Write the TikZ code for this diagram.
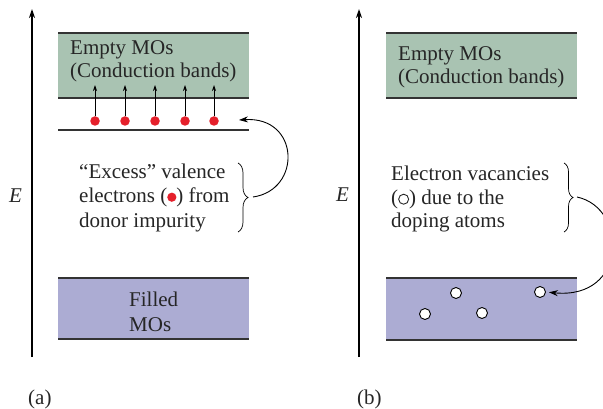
\documentclass[tikz,border=0pt]{standalone}
\usepackage{fontspec}
\setmainfont{Liberation Serif}
\usetikzlibrary{arrows.meta,decorations.pathreplacing}
\definecolor{cbgreen}{HTML}{A9C3B2}
\definecolor{vblue}{HTML}{ACACD3}
\definecolor{edge}{HTML}{333333}
\definecolor{dotred}{HTML}{E5202B}
\tikzset{
  axis/.style={line width=1.8pt,-{Stealth[length=9pt,width=6pt]}},
  bandedge/.style={edge,line width=1.4pt},
  txt/.style={inner sep=0pt,font=\fontsize{21}{24}\selectfont,text=black!85},
  electron/.style={circle,fill=dotred,inner sep=0pt,minimum size=9.5pt},
  hole/.style={circle,draw=black,fill=white,line width=0.9pt,inner sep=0pt,minimum size=11pt},
  excite/.style={line width=0.8pt,-{Stealth[length=6pt,width=4pt]}},
  curvearrow/.style={line width=0.9pt,-{Stealth[length=9pt,width=6pt]}},
  bracedeco/.style={line width=0.7pt,decorate,decoration={brace,amplitude=10pt}},
}
\newcommand{\myrdot}{\tikz[baseline=-0.6ex]\fill[dotred] (0,0) circle (4.6pt);}
\newcommand{\myocirc}{\tikz[baseline=-0.6ex]\draw[line width=0.9pt] (0,0) circle (5pt);}
\begin{document}
\begin{tikzpicture}[x=1pt,y=-1pt]
\useasboundingbox (0,0) rectangle (603,409);
\fill[white] (0,0) rectangle (603,409);

% ===== Panel (a) =====
\coordinate (aAxB) at (32,357);
\coordinate (aAxT) at (32,9);
\draw[axis] (aAxB) -- (aAxT);
\node[txt,anchor=base west,font=\fontsize{21}{24}\selectfont\itshape] (aE) at (9,203) {E};

\fill[cbgreen] (58,33) rectangle (249,98);
\draw[bandedge] (58,33) -- (249,33);
\draw[bandedge] (58,98) -- (249,98);
\node[txt,anchor=base west] (aEmpty1) at (70,55) {Empty MOs};
\node[txt,anchor=base west] (aEmpty2) at (70,78) {(Conduction bands)};

\draw[bandedge,line width=1.2pt] (58,130) -- (249,130);
\foreach \i/\x in {1/95,2/125,3/155,4/185,5/214}{
  \node[electron] (e\i) at (\x,121) {};
  \coordinate (t\i) at (\x,85);
  \draw[excite] (e\i.north) -- (t\i);
}

\node[txt,anchor=base west] (aD1) at (79,179) {“Excess” valence};
\node[txt,anchor=base west] (aD2) at (79,203) {electrons (\myrdot) from};
\node[txt,anchor=base west] (aD3) at (79,227) {donor impurity};

\coordinate (aBrT) at (238,163);
\coordinate (aBrB) at (238,232);
\draw[bracedeco] (aBrT) -- (aBrB);
\coordinate (aTip) at (253,197);
\coordinate (aEnd) at (239,120);
\draw[curvearrow] (aTip) .. controls (302,190) and (300,116) .. (aEnd);

\fill[vblue] (58,278) rectangle (249,339);
\draw[bandedge] (58,278) -- (249,278);
\draw[bandedge] (58,339) -- (249,339);
\node[txt,anchor=base west] (aF1) at (129,306) {Filled};
\node[txt,anchor=base west] (aF2) at (129,331) {MOs};

\node[txt,anchor=base west] (aLab) at (28,404) {(a)};

% ===== Panel (b) =====
\coordinate (bAxB) at (359,357);
\coordinate (bAxT) at (359,9);
\draw[axis] (bAxB) -- (bAxT);
\node[txt,anchor=base west,font=\fontsize{21}{24}\selectfont\itshape] (bE) at (336,202) {E};

\fill[cbgreen] (386,33) rectangle (577,98);
\draw[bandedge] (386,33) -- (577,33);
\draw[bandedge] (386,98) -- (577,98);
\node[txt,anchor=base west] (bEmpty1) at (398,61) {Empty MOs};
\node[txt,anchor=base west] (bEmpty2) at (398,84) {(Conduction bands)};

\node[txt,anchor=base west] (bD1) at (391,181) {Electron vacancies};
\node[txt,anchor=base west] (bD2) at (391,205) {(\myocirc) due to the};
\node[txt,anchor=base west] (bD3) at (391,228) {doping atoms};

\coordinate (bBrT) at (564,163);
\coordinate (bBrB) at (564,232);
\draw[bracedeco,decoration={brace,amplitude=9pt}] (bBrT) -- (bBrB);
\coordinate (bTip) at (577,197);

\fill[vblue] (386,278) rectangle (577,340);
\draw[bandedge] (386,278) -- (577,278);
\draw[bandedge] (386,340) -- (577,340);
\node[hole] (h1) at (456,293) {};
\node[hole] (h2) at (425,314) {};
\node[hole] (h3) at (482,313) {};
\node[hole] (h4) at (540,292) {};
\draw[curvearrow,shorten >=3pt] (bTip) .. controls (628,208) and (628,300) .. (h4.east);

\node[txt,anchor=base west] (bLab) at (357,404) {(b)};
\end{tikzpicture}
\end{document}
